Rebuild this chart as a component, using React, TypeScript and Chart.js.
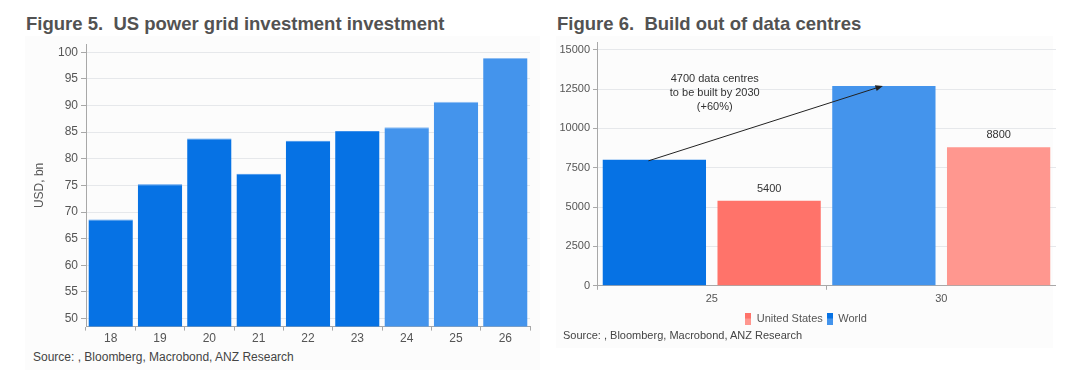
import React, { useEffect, useRef } from "react";
import { Chart, registerables } from "chart.js";

Chart.register(...registerables);

// ---------- Data ----------
const gridYears = ["18", "19", "20", "21", "22", "23", "24", "25", "26"];
const gridInvestment = [68.6, 75.2, 83.8, 77.2, 83.4, 85.2, 85.9, 90.7, 98.9];
const gridForecastFrom = 6; // index from which bars are forecasts

const dcYears = ["25", "30"];
const dcWorld = [8000, 12700];
const dcUS = [5400, 8800];
const dcNote = ["4700 data centres", "to be built by 2030", "(+60%)"];
const dcNoteValues = [13160, 12270, 11380];

const leftTitle = "Figure 5.  US power grid investment investment";
const rightTitle = "Figure 6.  Build out of data centres";
const sourceText = "Source: , Bloomberg, Macrobond, ANZ Research";

// ---------- Styles ----------
const FONT = "'Liberation Sans', Arial, Helvetica, sans-serif";
const BLUE = "#0672E4";
const BLUE_F = "#4494EC";
const RED = "#FF736A";
const RED_F = "#FF978F";
const TXT = "#555555";
const GRID = "#E6E8EB";
const AXIS = "#A8A8A8";

function twoTone(top: string, bottom: string) {
  const c = document.createElement("canvas");
  c.width = 6;
  c.height = 12;
  const ctx = c.getContext("2d")!;
  ctx.fillStyle = top;
  ctx.fillRect(0, 0, 6, 6);
  ctx.fillStyle = bottom;
  ctx.fillRect(0, 6, 6, 6);
  return c;
}

function LeftChart() {
  const ref = useRef<HTMLCanvasElement>(null);
  useEffect(() => {
    const colors = gridInvestment.map((_, i) => (i >= gridForecastFrom ? BLUE_F : BLUE));
    const borders = gridInvestment.map((_, i) => (i >= gridForecastFrom ? "#8DBDF3" : "#3C8FEA"));
    const chart = new Chart(ref.current!, {
      type: "bar",
      data: {
        labels: gridYears,
        datasets: [
          {
            data: gridInvestment,
            backgroundColor: colors,
            borderColor: borders,
            borderWidth: { top: 1, left: 0, right: 0, bottom: 0 } as any,
            barPercentage: 0.9,
            categoryPercentage: 1,
          },
        ],
      },
      options: {
        responsive: false,
        animation: false,
        layout: { padding: { top: 3, right: 6, bottom: 0, left: 6 } },
        plugins: { legend: { display: false }, tooltip: { enabled: false } },
        scales: {
          x: {
            offset: true,
            grid: { offset: true, drawOnChartArea: false, tickLength: 4, color: AXIS },
            border: { color: AXIS },
            ticks: { color: TXT, font: { family: FONT, size: 12 }, padding: 1 },
          },
          y: {
            min: 48.5,
            max: 101.5,
            afterBuildTicks: (axis: any) => {
              const t = [];
              for (let v = 50; v <= 100; v += 5) t.push({ value: v });
              axis.ticks = t;
            },
            afterFit: (axis: any) => {
              axis.width = 54;
            },
            grid: { color: GRID, tickLength: 5, tickColor: AXIS } as any,
            border: { color: AXIS },
            ticks: { color: TXT, font: { family: FONT, size: 12 }, padding: 3 },
            title: {
              display: true,
              text: "USD, bn",
              color: TXT,
              font: { family: FONT, size: 12 },
              padding: 0,
            },
          },
        },
      },
    });
    return () => chart.destroy();
  }, []);
  return <canvas ref={ref} width={510} height={313} style={{ display: "block" }} />;
}

function RightChart() {
  const ref = useRef<HTMLCanvasElement>(null);
  useEffect(() => {
    const arrowPlugin = {
      id: "arrowNote",
      afterDatasetsDraw(chart: any) {
        const ctx = chart.ctx;
        const meta = chart.getDatasetMeta(0);
        const a = meta.data[0];
        const b = meta.data[1];
        const x0 = a.x - 6, y0 = a.y + 1;
        const x1 = b.x - 1, y1 = b.y;
        ctx.save();
        ctx.strokeStyle = "#222";
        ctx.fillStyle = "#222";
        ctx.lineWidth = 1;
        const ang = Math.atan2(y1 - y0, x1 - x0);
        const hl = 8;
        ctx.beginPath();
        ctx.moveTo(x0, y0);
        ctx.lineTo(x1 - Math.cos(ang) * hl * 0.8, y1 - Math.sin(ang) * hl * 0.8);
        ctx.stroke();
        ctx.beginPath();
        ctx.moveTo(x1, y1);
        ctx.lineTo(x1 - hl * Math.cos(ang - 0.38), y1 - hl * Math.sin(ang - 0.38));
        ctx.lineTo(x1 - hl * Math.cos(ang + 0.38), y1 - hl * Math.sin(ang + 0.38));
        ctx.closePath();
        ctx.fill();
        // note text
        ctx.font = `11px ${FONT}`;
        ctx.fillStyle = "#333";
        ctx.textAlign = "center";
        ctx.textBaseline = "middle";
        const cx = chart.scales.x.getPixelForValue(0) + 3;
        dcNote.forEach((line, i) => {
          ctx.fillText(line, cx, chart.scales.y.getPixelForValue(dcNoteValues[i]));
        });
        // value labels on US bars
        const m2 = chart.getDatasetMeta(1);
        m2.data.forEach((el: any, i: number) => {
          ctx.fillText(String(dcUS[i]), el.x, el.y - 12);
        });
        ctx.restore();
      },
    };
    const chart = new Chart(ref.current!, {
      type: "bar",
      data: {
        labels: dcYears,
        datasets: [
          {
            label: "World",
            data: dcWorld,
            backgroundColor: [BLUE, BLUE_F],
            barPercentage: 0.9,
            categoryPercentage: 1,
          },
          {
            label: "United States",
            data: dcUS,
            backgroundColor: [RED, RED_F],
            barPercentage: 0.9,
            categoryPercentage: 1,
          },
        ],
      },
      options: {
        responsive: false,
        animation: false,
        layout: { padding: { top: 3, right: 0, bottom: 0, left: 0 } },
        plugins: {
          tooltip: { enabled: false },
          legend: {
            position: "bottom",
            reverse: true,
            labels: {
              usePointStyle: true,
              boxWidth: 6,
              boxHeight: 12,
              padding: 4,
              color: TXT,
              font: { family: FONT, size: 11 },
              generateLabels: (chart: any) =>
                chart.data.datasets.map((ds: any, i: number) => ({
                  text: ds.label,
                  pointStyle: i === 0 ? twoTone(BLUE, BLUE_F) : twoTone(RED, RED_F),
                  fillStyle: "transparent",
                  strokeStyle: "transparent",
                  lineWidth: 0,
                  hidden: false,
                  datasetIndex: i,
                  fontColor: TXT,
                })),
            },
          },
        },
        scales: {
          x: {
            offset: true,
            grid: { offset: true, drawOnChartArea: false, tickLength: 4, color: AXIS },
            border: { color: AXIS },
            ticks: { color: TXT, font: { family: FONT, size: 11 }, padding: 3 },
          },
          y: {
            min: 0,
            max: 15450,
            afterBuildTicks: (axis: any) => {
              const t = [];
              for (let v = 0; v <= 15000; v += 2500) t.push({ value: v });
              axis.ticks = t;
            },
            afterFit: (axis: any) => {
              axis.width = 41;
            },
            grid: { color: GRID, tickLength: 4, tickColor: AXIS } as any,
            border: { color: AXIS },
            ticks: {
              color: TXT,
              font: { family: FONT, size: 11 },
              padding: 3,
              callback: (v: any) => String(v),
            },
          },
        },
      },
      plugins: [arrowPlugin],
    });
    return () => chart.destroy();
  }, []);
  return <canvas ref={ref} width={500} height={301} style={{ display: "block" }} />;
}

export default function App() {
  const titleStyle: React.CSSProperties = {
    position: "absolute",
    fontFamily: FONT,
    fontWeight: "bold",
    fontSize: 18.5,
    color: "#525252",
    whiteSpace: "pre",
    lineHeight: "20px",
  };
  const srcStyle: React.CSSProperties = {
    position: "absolute",
    fontFamily: FONT,
    color: "#444",
    whiteSpace: "nowrap",
  };
  return (
    <div style={{ position: "absolute", left: 0, top: 0, width: 1069, height: 376, background: "#fff", overflow: "hidden" }}>
      <div style={{ position: "absolute", left: 25, top: 36, width: 515, height: 334, background: "#FCFCFC" }} />
      <div style={{ position: "absolute", left: 556, top: 36, width: 497, height: 312, background: "#FCFCFC" }} />
      <div style={{ ...titleStyle, left: 26, top: 14 }}>{leftTitle}</div>
      <div style={{ ...titleStyle, left: 557, top: 14 }}>{rightTitle}</div>
      <div style={{ position: "absolute", left: 26, top: 34 }}>
        <LeftChart />
      </div>
      <div style={{ position: "absolute", left: 556, top: 33 }}>
        <RightChart />
      </div>
      <div style={{ ...srcStyle, left: 33, top: 350, fontSize: 12 }}>{sourceText}</div>
      <div style={{ ...srcStyle, left: 563, top: 329, fontSize: 11 }}>{sourceText}</div>
    </div>
  );
}
